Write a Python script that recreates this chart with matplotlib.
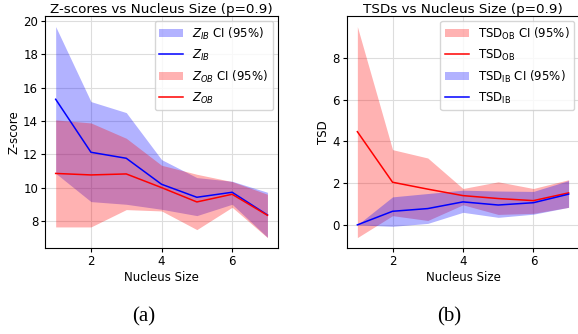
import numpy as np
import matplotlib.pyplot as plt

# nucleus sizes
sizes = [1, 2, 3, 4, 5, 6, 7]

# Z-scores (panel a)
z_ib = [15.3, 12.12, 11.76, 10.2, 9.42, 9.72, 8.36]
z_ib_lo = [10.86, 9.16, 9.0, 8.7, 8.32, 9.0, 7.02]
z_ib_hi = [19.66, 15.16, 14.5, 11.68, 10.6, 10.38, 9.72]
z_ob = [10.85, 10.76, 10.82, 10.0, 9.14, 9.6, 8.34]
z_ob_lo = [7.64, 7.64, 8.68, 8.6, 7.48, 8.82, 7.0]
z_ob_hi = [14.06, 13.88, 12.96, 11.34, 10.8, 10.36, 9.6]

# TSDs (panel b)
tsd_ob = [4.46, 2.04, 1.71, 1.4, 1.26, 1.16, 1.53]
tsd_ob_lo = [-0.61, 0.44, 0.21, 0.96, 0.5, 0.55, 0.84]
tsd_ob_hi = [9.49, 3.6, 3.2, 1.74, 2.06, 1.74, 2.16]
tsd_ib = [0.0, 0.65, 0.78, 1.1, 0.95, 1.06, 1.47]
tsd_ib_lo = [0.0, -0.07, 0.07, 0.6, 0.36, 0.51, 0.84]
tsd_ib_hi = [0.0, 1.34, 1.5, 1.66, 1.62, 1.6, 2.12]

fs = 8.5

fig = plt.figure(figsize=(5.78, 3.34), dpi=100)
ax1 = fig.add_axes([0.078, 0.257, 0.403, 0.695])
ax2 = fig.add_axes([0.600, 0.257, 0.402, 0.695])

# panel a
ax1.fill_between(sizes, z_ib_lo, z_ib_hi, color='blue', alpha=0.3, linewidth=0, label='$Z_{IB}$ CI (95%)')
ax1.plot(sizes, z_ib, color='blue', lw=1.1, label='$Z_{IB}$')
ax1.fill_between(sizes, z_ob_lo, z_ob_hi, color='red', alpha=0.3, linewidth=0, label='$Z_{OB}$ CI (95%)')
ax1.plot(sizes, z_ob, color='red', lw=1.1, label='$Z_{OB}$')
ax1.set_title('Z-scores vs Nucleus Size (p=0.9)', fontsize=9.7, pad=1.5)
ax1.set_xlabel('Nucleus Size', fontsize=fs, labelpad=2)
ax1.set_ylabel('Z-score', fontsize=fs, labelpad=2)
ax1.set_yticks([8, 10, 12, 14, 16, 18, 20])
ax1.legend(loc='upper right', fontsize=fs, borderaxespad=0.4)

# panel b
ax2.fill_between(sizes, tsd_ob_lo, tsd_ob_hi, color='red', alpha=0.3, linewidth=0, label=r'TSD$_\mathregular{OB}$ CI (95%)')
ax2.plot(sizes, tsd_ob, color='red', lw=1.1, label=r'TSD$_\mathregular{OB}$')
ax2.fill_between(sizes, tsd_ib_lo, tsd_ib_hi, color='blue', alpha=0.3, linewidth=0, label=r'TSD$_\mathregular{IB}$ CI (95%)')
ax2.plot(sizes, tsd_ib, color='blue', lw=1.1, label=r'TSD$_\mathregular{IB}$')
ax2.set_title('TSDs vs Nucleus Size (p=0.9)', fontsize=9.7, pad=1.5)
ax2.set_xlabel('Nucleus Size', fontsize=fs, labelpad=2)
ax2.set_ylabel('TSD', fontsize=fs, labelpad=2)
ax2.set_yticks([0, 2, 4, 6, 8])
ax2.legend(loc='upper right', fontsize=fs, borderaxespad=0.4)

for ax in (ax1, ax2):
  ax.set_xticks([2, 4, 6])
  ax.tick_params(labelsize=fs, length=3, pad=2)
  ax.grid(color='#dddddd', linewidth=0.8)
  ax.set_axisbelow(True)

fig.text(0.248, 0.036, '(a)', fontsize=15, family='Liberation Serif', ha='center')
fig.text(0.777, 0.036, '(b)', fontsize=15, family='Liberation Serif', ha='center')

plt.savefig('out.png', dpi=100)
